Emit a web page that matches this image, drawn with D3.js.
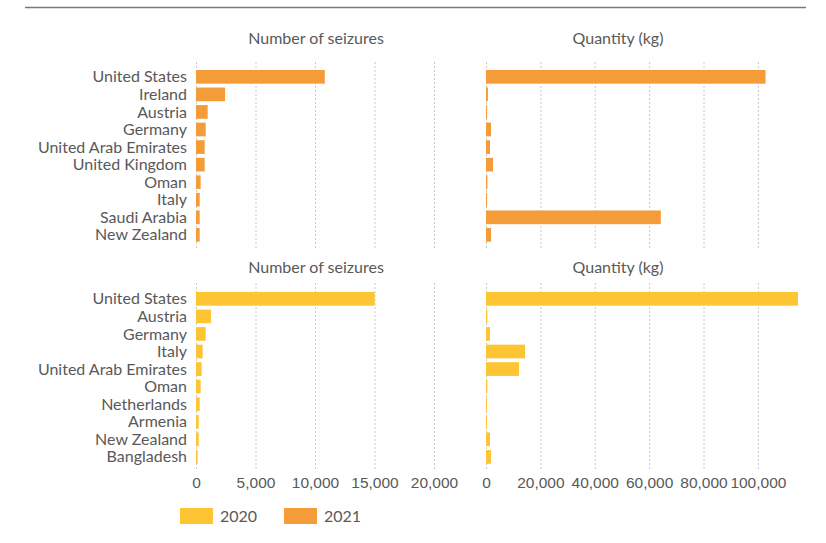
<!DOCTYPE html>
<html>
<head>
<meta charset="utf-8">
<script src="https://cdn.jsdelivr.net/npm/d3@7"></script>
<style>
  html, body { margin: 0; padding: 0; background: #fff; }
  svg { display: block; font-family: Lato, "Open Sans", sans-serif; }
  .lbl { fill: #595959; font-size: 16px; }
  .ttl { fill: #595959; font-size: 16px; }
  .grid line { stroke: #c8c8c8; stroke-dasharray: 2,2; }
</style>
</head>
<body>
<svg id="chart" width="826" height="543"></svg>
<script>
// Top panel (2021)
const countries2021 = ["United States", "Ireland", "Austria", "Germany", "United Arab Emirates",
  "United Kingdom", "Oman", "Italy", "Saudi Arabia", "New Zealand"];
const seizures2021 = [10820, 2440, 980, 815, 730, 730, 390, 310, 310, 310];
const quantity2021 = [102800, 700, 400, 1850, 1470, 2580, 500, 400, 64300, 1850];

// Bottom panel (2020)
const countries2020 = ["United States", "Austria", "Germany", "Italy", "United Arab Emirates",
  "Oman", "Netherlands", "Armenia", "New Zealand", "Bangladesh"];
const seizures2020 = [15020, 1260, 815, 560, 475, 390, 310, 225, 225, 140];
const quantity2020 = [114750, 500, 1470, 14360, 12150, 500, 400, 400, 1470, 1850];

const seizureTicks = [0, 5000, 10000, 15000, 20000];
const quantityTicks = [0, 20000, 40000, 60000, 80000, 100000];
const panelTitles = ["Number of seizures", "Quantity (kg)"];
const years = ["2020", "2021"];
const colors = { "2020": "#fdc533", "2021": "#f39c38" };

const svg = d3.select("#chart");
const fmt = d3.format(",");

// Rule across the top
svg.append("line")
  .attr("x1", 25).attr("x2", 806).attr("y1", 7.5).attr("y2", 7.5)
  .attr("stroke", "#7a7a7a").attr("stroke-width", 1.5);

const xSeiz = d3.scaleLinear().domain([0, 20000]).range([196, 434]);
const xQty = d3.scaleLinear()
  .domain([0, d3.max(quantity2020.concat(quantity2021))])
  .range([486, 798]);

const panels = [
  { year: "2021", cats: countries2021, seiz: seizures2021, qty: quantity2021,
    yRange: [64.7, 247], gridY: [62, 248], titleY: 44 },
  { year: "2020", cats: countries2020, seiz: seizures2020, qty: quantity2020,
    yRange: [286.7, 469], gridY: [283, 470], titleY: 273 }
];

panels.forEach(p => {
  const y = d3.scaleBand().domain(p.cats).range(p.yRange)
    .paddingInner(0.22).paddingOuter(0.3);
  const g = svg.append("g");

  // Dotted vertical gridlines
  const grid = g.append("g").attr("class", "grid");
  grid.selectAll("line.s").data(seizureTicks).join("line").attr("class", "s")
    .attr("x1", d => xSeiz(d) + 0.5).attr("x2", d => xSeiz(d) + 0.5)
    .attr("y1", p.gridY[0]).attr("y2", p.gridY[1]);
  grid.selectAll("line.q").data(quantityTicks).join("line").attr("class", "q")
    .attr("x1", d => xQty(d) + 0.5).attr("x2", d => xQty(d) + 0.5)
    .attr("y1", p.gridY[0]).attr("y2", p.gridY[1]);

  // Panel titles
  g.append("text").attr("class", "ttl").attr("text-anchor", "middle")
    .attr("x", 316).attr("y", p.titleY).text(panelTitles[0]);
  g.append("text").attr("class", "ttl").attr("text-anchor", "middle")
    .attr("x", 618).attr("y", p.titleY).text(panelTitles[1]);

  // Category labels
  g.selectAll("text.cat").data(p.cats).join("text").attr("class", "lbl cat")
    .attr("text-anchor", "end").attr("x", 187)
    .attr("y", d => y(d) + y.bandwidth() / 2).attr("dy", "0.35em")
    .text(d => d);

  // Bars: number of seizures
  g.selectAll("rect.s").data(p.cats).join("rect").attr("class", "s")
    .attr("x", xSeiz(0)).attr("y", d => y(d))
    .attr("width", (d, i) => xSeiz(p.seiz[i]) - xSeiz(0))
    .attr("height", y.bandwidth())
    .attr("fill", colors[p.year]);

  // Bars: quantity
  g.selectAll("rect.q").data(p.cats).join("rect").attr("class", "q")
    .attr("x", xQty(0)).attr("y", d => y(d))
    .attr("width", (d, i) => xQty(p.qty[i]) - xQty(0))
    .attr("height", y.bandwidth())
    .attr("fill", colors[p.year]);
});

// Axis tick labels under the bottom panel
const axisSeiz = d3.axisBottom(xSeiz).tickValues(seizureTicks).tickFormat(fmt).tickSize(0).tickPadding(0);
const axisQty = d3.axisBottom(xQty).tickValues(quantityTicks).tickFormat(fmt).tickSize(0).tickPadding(0);
[axisSeiz, axisQty].forEach(ax => {
  const a = svg.append("g").attr("transform", "translate(0,475)").call(ax);
  a.select(".domain").remove();
  a.selectAll("text").attr("class", "lbl").attr("fill", null)
    .style("font-size", "15.5px").attr("dy", "0.85em");
});

// Legend
const leg = svg.append("g").attr("transform", "translate(180,508)");
years.forEach((yr, i) => {
  const item = leg.append("g").attr("transform", `translate(${i * 104},0)`);
  item.append("rect").attr("width", 33).attr("height", 16).attr("fill", colors[yr]);
  item.append("text").attr("class", "lbl").attr("x", 40).attr("y", 8)
    .attr("dy", "0.35em").style("font-size", "16px").text(yr);
});
</script>
</body>
</html>
